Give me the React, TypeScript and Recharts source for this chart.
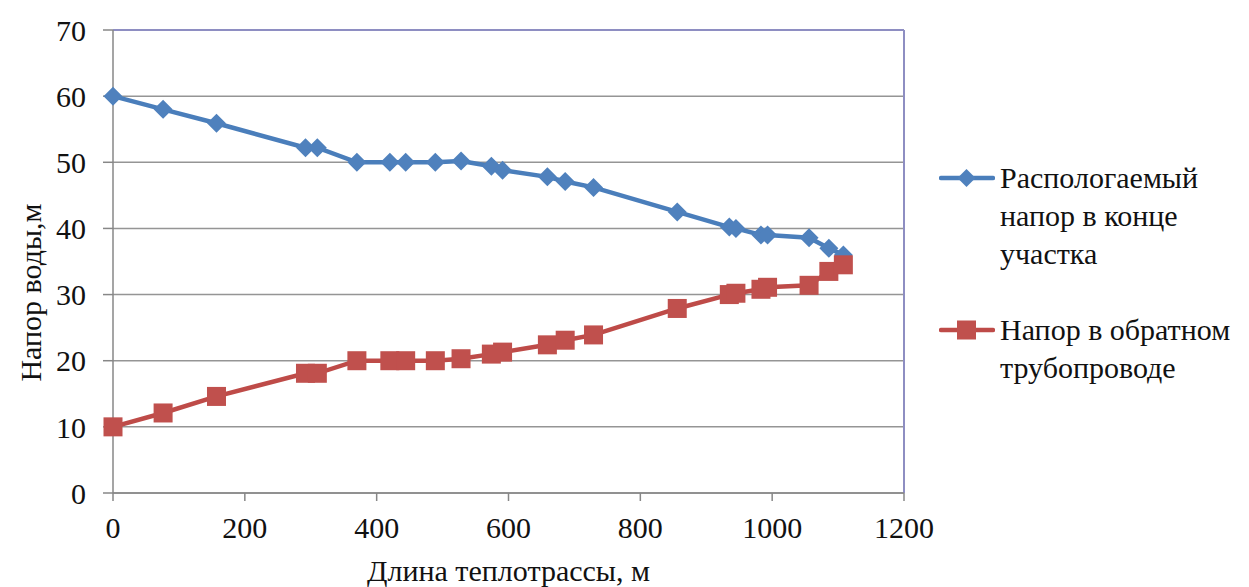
import React from "react";
import {
  LineChart,
  Line,
  XAxis,
  YAxis,
  CartesianGrid,
  ReferenceLine,
  Label,
} from "recharts";

// длина теплотрассы, м
const distances = [
  0, 76, 157, 292, 310, 370, 420, 444, 489, 528, 574, 591, 659, 686, 729, 856,
  935, 945, 983, 993, 1056, 1086, 1108,
];
// располагаемый напор в конце участка, м
const supplyHead = [
  60, 58, 55.9, 52.2, 52.2, 50, 50, 50, 50, 50.2, 49.4, 48.8, 47.8, 47.1, 46.2,
  42.5, 40.2, 40, 39, 39, 38.6, 37, 36,
];
// напор в обратном трубопроводе, м
const returnHead = [
  10, 12.1, 14.6, 18.1, 18.1, 20, 20, 20, 20, 20.3, 21, 21.3, 22.4, 23.1, 23.9,
  27.9, 30, 30.2, 30.8, 31.1, 31.4, 33.5, 34.5,
];
const xTicks = [0, 200, 400, 600, 800, 1000, 1200];
const yTicks = [0, 10, 20, 30, 40, 50, 60, 70];

const supplyLegend = ["Распологаемый", "напор в конце", "участка"];
const returnLegend = ["Напор в обратном", "трубопроводе"];

const data = distances.map((x, i) => ({
  x,
  supply: supplyHead[i],
  ret: returnHead[i],
}));

const FONT = '"Liberation Serif", "Times New Roman", serif';
const FS = 30;
const TEXT = "#111";
const BLUE_LINE = "#4a7ebb";
const BLUE_MARK = "#4f81bd";
const RED_LINE = "#be4b48";
const RED_MARK = "#c0504d";
const AXIS = "#878787";
const FRAME = "#8e8ec2";

const tickStyle = { fontSize: FS, fill: TEXT, fontFamily: FONT };

function Diamond(props: any) {
  const { cx, cy, index } = props;
  if (cx == null || cy == null) return <g key={`d-${index}`} />;
  const r = 9.5;
  return (
    <polygon
      key={`d-${index}`}
      points={`${cx},${cy - r} ${cx + r},${cy} ${cx},${cy + r} ${cx - r},${cy}`}
      fill={BLUE_MARK}
    />
  );
}

function Square(props: any) {
  const { cx, cy, index } = props;
  if (cx == null || cy == null) return <g key={`s-${index}`} />;
  const s = 19;
  return (
    <rect
      key={`s-${index}`}
      x={cx - s / 2}
      y={cy - s / 2}
      width={s}
      height={s}
      fill={RED_MARK}
    />
  );
}

function LegendIcon({ kind }: { kind: "diamond" | "square" }) {
  return (
    <svg width={56} height={38} style={{ flex: "none" }}>
      <line
        x1={2}
        y1={19}
        x2={54}
        y2={19}
        stroke={kind === "diamond" ? BLUE_LINE : RED_LINE}
        strokeWidth={4.5}
        strokeLinecap="round"
      />
      {kind === "diamond" ? (
        <polygon points="27.5,10 36.5,19 27.5,28 18.5,19" fill={BLUE_MARK} />
      ) : (
        <rect x={18} y={9.5} width={19} height={19} fill={RED_MARK} />
      )}
    </svg>
  );
}

function ChartLegend() {
  const entries = [
    { kind: "diamond" as const, lines: supplyLegend },
    { kind: "square" as const, lines: returnLegend },
  ];
  return (
    <div
      style={{
        position: "absolute",
        left: 939,
        top: 159,
        fontFamily: FONT,
        fontSize: FS,
        color: TEXT,
        lineHeight: "38px",
      }}
    >
      {entries.map((e, i) => (
        <div key={i} style={{ display: "flex", alignItems: "flex-start", marginBottom: 38 }}>
          <LegendIcon kind={e.kind} />
          <div style={{ marginLeft: 5 }}>
            {e.lines.map((l, j) => (
              <div key={j} style={{ whiteSpace: "nowrap" }}>
                {l}
              </div>
            ))}
          </div>
        </div>
      ))}
    </div>
  );
}

function YTitle(props: any) {
  const vb = props.viewBox || { x: 0, y: 30, width: 113, height: 463 };
  const cx = 30;
  const cy = vb.y + vb.height / 2 + 31;
  return (
    <text
      x={cx}
      y={cy}
      transform={`rotate(-90 ${cx} ${cy})`}
      textAnchor="middle"
      dominantBaseline="central"
      style={{ fontSize: FS, fill: TEXT, fontFamily: FONT }}
    >
      Напор воды,м
    </text>
  );
}

export default function App() {
  return (
    <div style={{ position: "absolute", left: 0, top: 0, width: 1249, height: 587, background: "#fff" }}>
      <LineChart
        width={1249}
        height={587}
        data={data}
        margin={{ top: 30, right: 345, left: 0, bottom: 0 }}
      >
        <CartesianGrid vertical={false} stroke="#959595" strokeWidth={1.5} />
        <XAxis
          type="number"
          dataKey="x"
          domain={[0, 1200]}
          ticks={xTicks}
          interval={0}
          height={94}
          stroke={AXIS}
          strokeWidth={1.5}
          tickSize={8}
          tickMargin={16}
          tick={tickStyle}
        >
          <Label
            value="Длина теплотрассы, м"
            position="insideBottom"
            offset={6}
            style={{ fontSize: FS, fill: TEXT, fontFamily: FONT }}
          />
        </XAxis>
        <YAxis
          type="number"
          domain={[0, 70]}
          ticks={yTicks}
          interval={0}
          width={113}
          stroke={AXIS}
          strokeWidth={1.5}
          tickSize={10}
          tickMargin={17}
          tick={tickStyle}
        >
          <Label content={YTitle} />
        </YAxis>
        <ReferenceLine y={70} stroke={FRAME} strokeWidth={2} />
        <ReferenceLine x={1200} stroke={FRAME} strokeWidth={2} />
        <Line
          type="linear"
          dataKey="supply"
          stroke={BLUE_LINE}
          strokeWidth={4.5}
          dot={Diamond}
          activeDot={false}
          isAnimationActive={false}
        />
        <Line
          type="linear"
          dataKey="ret"
          stroke={RED_LINE}
          strokeWidth={4.5}
          dot={Square}
          activeDot={false}
          isAnimationActive={false}
        />
      </LineChart>
      <ChartLegend />
    </div>
  );
}
